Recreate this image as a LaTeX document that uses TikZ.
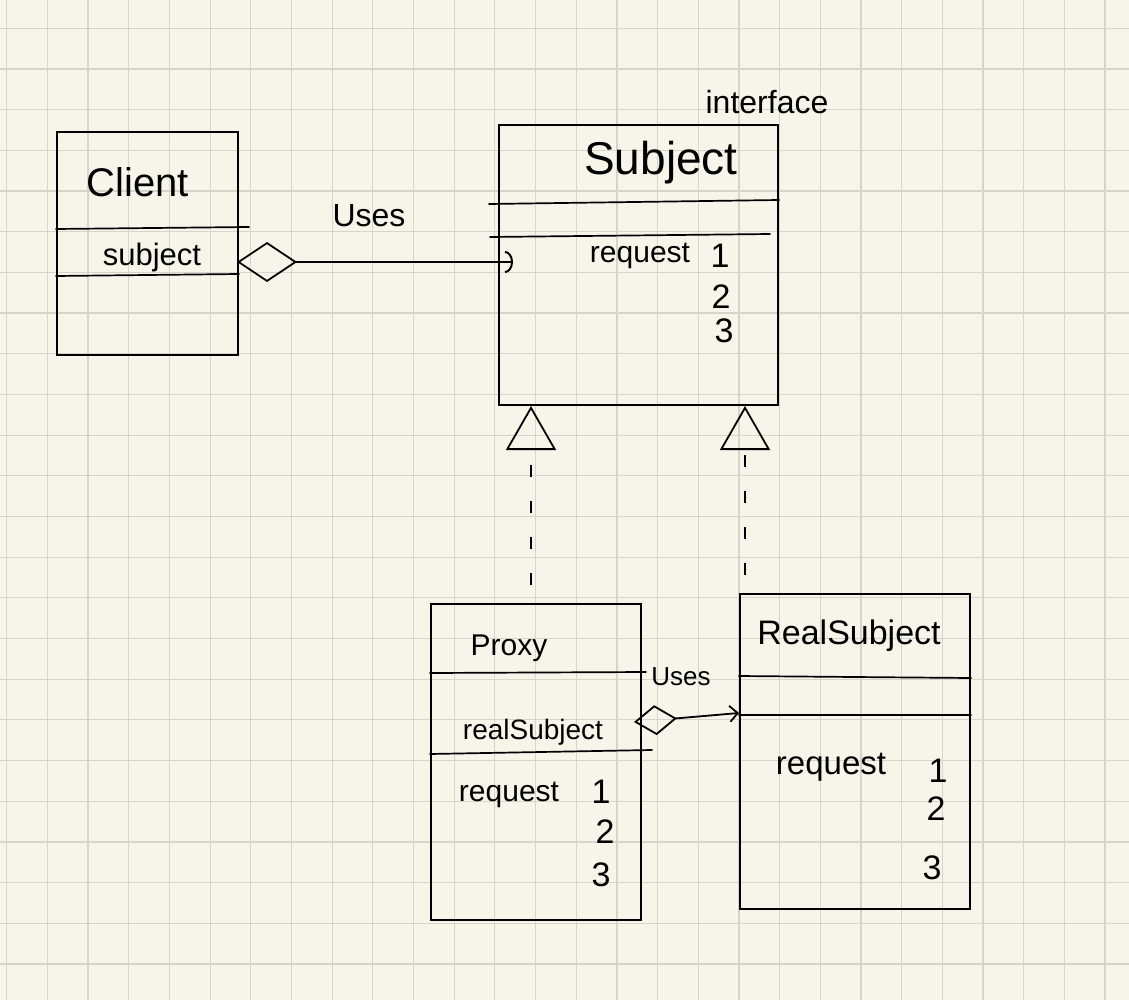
\documentclass[tikz,border=0pt]{standalone}
\usepackage{fontspec}
\setmainfont{Liberation Sans}
\usetikzlibrary{arrows.meta}
\definecolor{paper}{HTML}{F7F5EA}
\definecolor{gridc}{HTML}{D6D5CC}
\begin{document}
\begin{tikzpicture}[x=1pt,y=-1pt,
  box/.style={draw=black, line width=2pt, rectangle, inner sep=0pt, anchor=north west},
  sepline/.style={line width=1.7pt, line cap=round},
  lbl/.style={inner sep=0pt, font=\fontsize{30}{30}\selectfont},
  digit/.style={inner sep=0pt, font=\fontsize{34}{34}\selectfont},
  conn/.style={line width=1.8pt, line cap=round},
  realiz/.style={line width=1.8pt, dash pattern=on 12pt off 24pt, -{Triangle[open, length=44pt, width=50pt, line width=1.8pt]}},
  aggrbig/.style={conn, {Diamond[open, length=60pt, width=40pt, line width=1.8pt]}-{Arc Barb[length=8pt, width=22pt, line width=2pt]}},
  aggrsmall/.style={conn, {Diamond[open, length=43pt, width=30pt, line width=1.8pt]}-{Straight Barb[length=8pt, width=16pt, line width=1.8pt]}}
]
% paper and grid
\fill[paper] (0,0) rectangle (1129,1000);
\useasboundingbox (0,0) rectangle (1129,1000);
\foreach \i in {0,...,27} \draw[gridc, line width=1.2pt] ({6.7+\i*40.68},0) -- ({6.7+\i*40.68},1000);
\foreach \j in {0,...,23} \draw[gridc, line width=1.2pt] (0,{28.3+\j*40.68}) -- (1129,{28.3+\j*40.68});

% boxes
\node[box, minimum width=181pt, minimum height=223pt] (client) at (56,131) {};
\node[box, minimum width=279pt, minimum height=280pt] (subject) at (498,124) {};
\node[box, minimum width=210pt, minimum height=316pt] (proxy) at (430,603) {};
\node[box, minimum width=230pt, minimum height=315pt] (real) at (739,593) {};

% separators
\draw[sepline] (client.west |- 0,229) -- ([xshift=10pt]client.east |- 0,227);
\draw[sepline] (client.west |- 0,276) -- (client.east |- 0,274);
\draw[sepline] ([xshift=-9pt]subject.west |- 0,204) -- (subject.east |- 0,200);
\draw[sepline] ([xshift=-8pt]subject.west |- 0,237) -- ([xshift=-9pt]subject.east |- 0,234);
\draw[sepline] (proxy.west |- 0,673) -- ([xshift=4pt]proxy.east |- 0,672);
\draw[sepline] (proxy.west |- 0,754) -- ([xshift=10pt]proxy.east |- 0,750);
\draw[sepline] (real.west |- 0,676) -- (real.east |- 0,678);
\draw[sepline] (real.west |- 0,715) -- (real.east |- 0,715);

% texts
\node[lbl, font=\fontsize{40}{40}\selectfont] (tclient) at (138,182) {Client};
\node[lbl, font=\fontsize{31}{31}\selectfont] (tcsub) at (152,257) {subject};
\node[lbl, font=\fontsize{32}{32}\selectfont] (tuses1) at (369,216) {Uses};
\node[lbl, font=\fontsize{32}{32}\selectfont] (tiface) at (767,102) {interface};
\node[lbl, font=\fontsize{46}{46}\selectfont] (tsubject) at (661,163) {Subject};
\node[lbl] (tsreq) at (640,256) {request};
\node[digit] (ts1) at (720,256) {1};
\node[digit] (ts2) at (721,297) {2};
\node[digit] (ts3) at (724,331) {3};

\node[lbl, font=\fontsize{30}{30}\selectfont] (tproxy) at (509,648) {Proxy};
\node[lbl, font=\fontsize{28}{28}\selectfont] (tpreal) at (533,732) {realSubject};
\node[lbl, font=\fontsize{26}{26}\selectfont] (tuses2) at (681,677) {Uses};
\node[lbl] (tpreq) at (509,795) {request};
\node[digit] (tp1) at (601,792) {1};
\node[digit] (tp2) at (605,832) {2};
\node[digit] (tp3) at (601,875) {3};

\node[lbl, font=\fontsize{34}{34}\selectfont] (treal) at (849,636) {RealSubject};
\node[lbl, font=\fontsize{33}{33}\selectfont] (trreq) at (831,767) {request};
\node[digit] (tr1) at (938,771) {1};
\node[digit] (tr2) at (936,809) {2};
\node[digit] (tr3) at (932,868) {3};

% connector anchor points
\coordinate (clientuse) at (237,262);
\coordinate (subjuse) at (513,262);
\coordinate (proxyuse) at (634,722);
\coordinate (realuse) at (739,713);
\coordinate (proxytop) at (531,585);
\coordinate (realtop) at (745,575);

% connectors
\draw[aggrbig] (clientuse) -- (subjuse);
\draw[aggrsmall] (proxyuse) -- (realuse);
\draw[realiz] (proxytop) -- (subject.south -| proxytop);
\draw[realiz] (realtop) -- (subject.south -| realtop);
\end{tikzpicture}
\end{document}
